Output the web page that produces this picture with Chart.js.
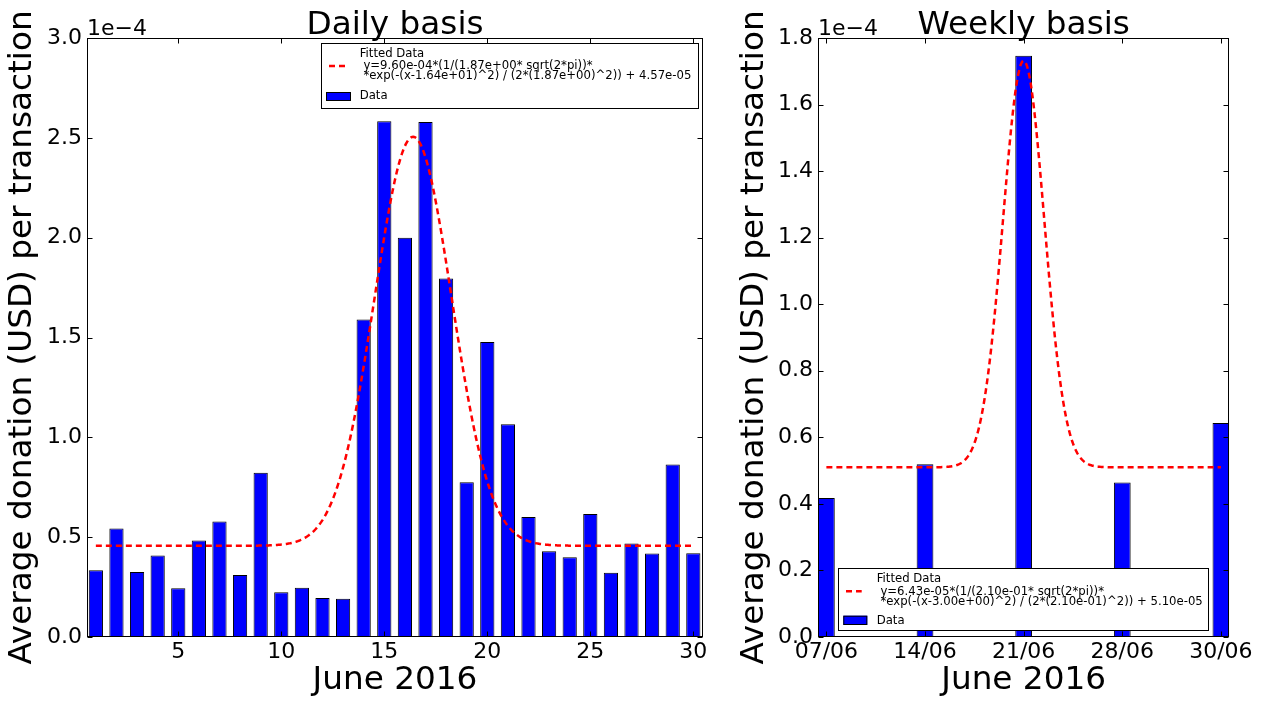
<!DOCTYPE html>
<html>
<head>
<meta charset="utf-8">
<script src="https://cdn.jsdelivr.net/npm/chart.js@4.4.1/dist/chart.umd.min.js"></script>
<style>
  html, body { margin: 0; padding: 0; background: #fff; overflow: hidden; }
  #wrap { position: relative; width: 1269px; height: 702px; }
  canvas { position: absolute; top: 0; }
  #daily { left: 0; }
  #weekly { left: 720px; }
</style>
</head>
<body>
<div id="wrap">
  <canvas id="daily" width="720" height="702"></canvas>
  <canvas id="weekly" width="549" height="702"></canvas>
</div>
<script>
// ---- data: average donation (USD) per transaction, June 2016 ----
const days = [1, 2, 3, 4, 5, 6, 7, 8, 9, 10, 11, 12, 13, 14, 15,
              16, 17, 18, 19, 20, 21, 22, 23, 24, 25, 26, 27, 28, 29, 30];
const dailyValues = [
  3.34e-5, 5.43e-5, 3.26e-5, 4.08e-5, 2.44e-5, 4.83e-5, 5.78e-5, 3.11e-5, 8.22e-5, 2.24e-5,
  2.47e-5, 1.95e-5, 1.92e-5, 1.59e-4, 2.583e-4, 2.00e-4, 2.579e-4, 1.795e-4, 7.75e-5, 1.477e-4,
  1.066e-4, 6.01e-5, 4.29e-5, 3.99e-5, 6.16e-5, 3.22e-5, 4.68e-5, 4.18e-5, 8.64e-5, 4.19e-5
];
const dailyTicks = [5, 10, 15, 20, 25, 30];

const weekIndex = [1, 2, 3, 4, 5];
const weekLabels = ['07/06', '14/06', '21/06', '28/06', '30/06'];
const weeklyValues = [4.18e-5, 5.19e-5, 1.747e-4, 4.64e-5, 6.43e-5];

// Gaussian fit parameters: [amplitude, mean, sigma, offset]
const dailyFit = [9.60e-4, 16.4, 1.87, 4.57e-5];
const weeklyFit = [6.43e-5, 3.00, 0.21, 5.10e-5];

const FONT = 'DejaVu Sans';

// fitted model y = A/(s*sqrt(2pi)) * exp(-(x-mu)^2/(2 s^2)) + c
function fitValue(p, x) {
  const [a, mu, s, c] = p;
  return a * (1 / (s * Math.sqrt(2 * Math.PI))) * Math.exp(-((x - mu) ** 2) / (2 * s * s)) + c;
}
function fitCurve(p, x0, x1, n) {
  const pts = [];
  for (let i = 0; i <= n; i++) {
    const x = x0 + (x1 - x0) * i / n;
    pts.push({ x, y: fitValue(p, x) });
  }
  return pts;
}
// matplotlib-style exponent formatting, e.g. 9.60e-04
function sci(v) {
  const [m, e] = v.toExponential(2).split('e');
  const n = parseInt(e, 10);
  return m + 'e' + (n < 0 ? '-' : '+') + String(Math.abs(n)).padStart(2, '0');
}
function fitLines(p) {
  const [a, mu, s, c] = p;
  return [
    'Fitted Data',
    ' y=' + sci(a) + '*(1/(' + sci(s) + '* sqrt(2*pi))*',
    ' *exp(-(x-' + sci(mu) + ')^2) / (2*(' + sci(s) + ')^2)) + ' + sci(c)
  ];
}

// frame, inward ticks, title, offset text and legend
const decor = {
  id: 'decor',
  afterDraw(chart, args, o) {
    const ctx = chart.ctx;
    const a = chart.chartArea;
    const xs = chart.scales.x, ys = chart.scales.y;
    ctx.save();
    ctx.strokeStyle = '#000';
    ctx.lineWidth = 1;
    const L = Math.round(a.left) + 0.5, R = Math.round(a.right) - 0.5;
    const T = Math.round(a.top) + 0.5, B = Math.round(a.bottom) - 0.5;
    ctx.strokeRect(L, T, R - L, B - T);
    const tl = 5;
    ctx.beginPath();
    xs.ticks.forEach((t, i) => {
      const px = Math.round(xs.getPixelForTick(i)) + 0.5;
      ctx.moveTo(px, B); ctx.lineTo(px, B - tl);
      ctx.moveTo(px, T); ctx.lineTo(px, T + tl);
    });
    ys.ticks.forEach((t, i) => {
      const py = Math.round(ys.getPixelForTick(i)) + 0.5;
      ctx.moveTo(L, py); ctx.lineTo(L + tl, py);
      ctx.moveTo(R, py); ctx.lineTo(R - tl, py);
    });
    ctx.stroke();

    // title and exponent label
    ctx.fillStyle = '#000';
    ctx.textBaseline = 'alphabetic';
    ctx.font = '32.7px "' + FONT + '"';
    ctx.textAlign = 'center';
    ctx.fillText(o.title, (a.left + a.right) / 2, 33.5);
    ctx.font = '22px "' + FONT + '"';
    ctx.textAlign = 'left';
    ctx.fillText('1e\u22124', a.left, 35);

    // legend
    const lg = o.legend;
    ctx.fillStyle = '#fff';
    ctx.fillRect(lg.box[0], lg.box[1], lg.box[2], lg.box[3]);
    ctx.strokeStyle = '#000';
    ctx.lineWidth = 1;
    ctx.strokeRect(Math.round(lg.box[0]) + 0.5, Math.round(lg.box[1]) + 0.5,
                   Math.round(lg.box[2]), Math.round(lg.box[3]));
    ctx.font = '11.7px "' + FONT + '"';
    ctx.fillStyle = '#000';
    lg.lines.forEach((s, i) => ctx.fillText(s, lg.textX, lg.baselines[i]));
    ctx.fillText('Data', lg.textX, lg.baselines[3]);
    ctx.strokeStyle = '#ff0000';
    ctx.lineWidth = 2.5;
    ctx.setLineDash([6, 4]);
    ctx.beginPath();
    ctx.moveTo(lg.dash[0], lg.dash[2]);
    ctx.lineTo(lg.dash[1], lg.dash[2]);
    ctx.stroke();
    ctx.setLineDash([]);
    ctx.fillStyle = '#0000ff';
    ctx.fillRect(lg.swatch[0], lg.swatch[1], lg.swatch[2], lg.swatch[3]);
    ctx.strokeStyle = '#000';
    ctx.lineWidth = 1;
    ctx.strokeRect(lg.swatch[0] + 0.5, lg.swatch[1] + 0.5, lg.swatch[2] - 1, lg.swatch[3] - 1);
    ctx.restore();
  }
};

function build(canvasId, cfg) {
  const tickFont = { family: FONT, size: 22 };
  const titleFont = { family: FONT, size: 32.7 };
  return new Chart(document.getElementById(canvasId), {
    type: 'bar',
    data: {
      datasets: [
        {
          type: 'line', label: 'Fitted Data', data: cfg.curve,
          borderColor: '#ff0000', borderWidth: 2.5, borderDash: [6, 4],
          pointRadius: 0, fill: false, tension: 0, order: 0
        },
        {
          type: 'bar', label: 'Data', data: cfg.bars,
          backgroundColor: '#0000ff', borderColor: '#000', borderWidth: 1,
          barPercentage: cfg.barPct, categoryPercentage: 1, order: 1
        }
      ]
    },
    options: {
      responsive: false,
      animation: false,
      events: [],
      layout: { padding: { top: 38, right: cfg.padRight, bottom: 0, left: 0 } },
      plugins: {
        legend: { display: false },
        tooltip: { enabled: false },
        decor: { title: cfg.title, legend: cfg.legend }
      },
      scales: {
        x: {
          type: 'linear', min: cfg.xMin, max: cfg.xMax, offset: false,
          grid: { display: false, drawTicks: false },
          border: { display: false },
          afterBuildTicks: s => { s.ticks = cfg.xTicks.map(v => ({ value: v })); },
          ticks: {
            font: tickFont, color: '#000', padding: 2.3,
            maxRotation: 0, minRotation: 0, autoSkip: false,
            callback: cfg.xLabel
          },
          title: { display: true, text: 'June 2016', font: titleFont, color: '#000',
                   padding: { top: 0, bottom: 1.6 } },
          afterFit: s => { s.height = 65; }
        },
        y: {
          min: 0, max: cfg.yMax,
          grid: { display: false, drawTicks: false },
          border: { display: false },
          ticks: {
            stepSize: cfg.yStep, font: tickFont, color: '#000', padding: 5,
            callback: v => (v / 1e-4).toFixed(1)
          },
          title: { display: true, text: 'Average donation (USD) per transaction',
                   font: titleFont, color: '#000', padding: { top: cfg.yTitlePad, bottom: 0 } },
          afterFit: s => { s.width = cfg.yWidth; }
        }
      }
    },
    plugins: [decor]
  });
}

build('daily', {
  title: 'Daily basis',
  curve: fitCurve(dailyFit, days[0], days[days.length - 1], 580),
  bars: days.map((d, i) => ({ x: d, y: dailyValues[i] })),
  barPct: 0.69,
  xMin: 0.57, xMax: 30.47,
  xTicks: dailyTicks,
  xLabel: v => String(v),
  yMax: 3.0e-4, yStep: 0.5e-4,
  yWidth: 87, yTitlePad: 2.4, padRight: 17,
  legend: {
    box: [321.3, 43.3, 377, 64.7],
    lines: fitLines(dailyFit),
    textX: 359.7,
    baselines: [57.3, 69.3, 79, 99],
    dash: [329, 345.3, 66],
    swatch: [326, 92, 25, 9]
  }
});

build('weekly', {
  title: 'Weekly basis',
  curve: fitCurve(weeklyFit, weekIndex[0], weekIndex[weekIndex.length - 1], 800),
  bars: weekIndex.map((d, i) => ({ x: d, y: weeklyValues[i] })),
  barPct: 0.17,
  xMin: 0.915, xMax: 5.085,
  xTicks: weekIndex,
  xLabel: v => weekLabels[weekIndex.indexOf(v)],
  yMax: 1.8e-4, yStep: 0.2e-4,
  yWidth: 98, yTitlePad: 14.5, padRight: 39.7,
  legend: {
    box: [118.3, 568.3, 370, 62.4],
    lines: fitLines(weeklyFit),
    textX: 156.7,
    baselines: [582.3, 595, 604.7, 624.3],
    dash: [126, 141.7, 591.3],
    swatch: [123.3, 615.7, 24, 9.3]
  }
});
</script>
</body>
</html>
